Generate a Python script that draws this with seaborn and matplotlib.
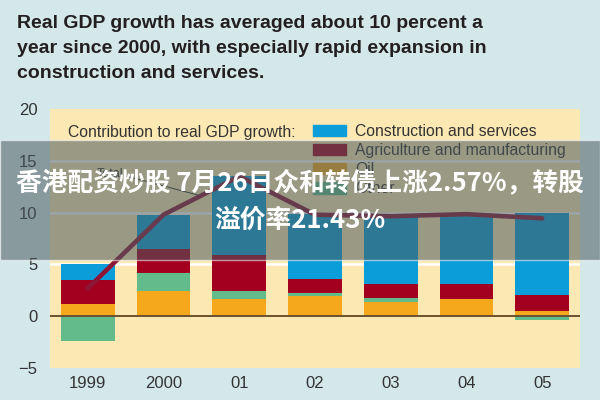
import numpy as np
import pandas as pd
import seaborn as sns
import matplotlib.pyplot as plt
from matplotlib.patches import Patch, Rectangle

years = ['1999', '2000', '01', '02', '03', '04', '05']
oil = [1.13, 2.39, 1.68, 1.94, 1.35, 1.68, 0.48]
other = [-2.35, 1.80, 0.74, 0.29, 0.42, 0.0, -0.35]
agri = [2.32, 2.31, 3.45, 1.38, 1.36, 1.45, 1.52]
constr = [1.55, 3.25, 7.63, 6.24, 6.62, 6.77, 8.0]
gdp = [2.7, 9.8, 13.5, 9.8, 9.65, 9.85, 9.45]

legend_labels = ['Construction and services', 'Agriculture and manufacturing', 'Oil', 'Other']
title = ("Real GDP growth has averaged about 10 percent a\n"
         "year since 2000, with especially rapid expansion in\n"
         "construction and services.")
watermark1 = '香港配资炒股 7月26日众和转债上涨2.57%，转股'
watermark2 = '溢价率21.43%'

c_blue = '#0a9dd9'
c_red = '#a3001f'
c_green = '#62bb8b'
c_orange = '#f5a81c'
c_line = '#8d1637'

df = pd.DataFrame({'year': years, 'oil': oil, 'other': other, 'agri': agri,
                   'constr': constr, 'gdp': gdp})
df['other_pos'] = df['other'].clip(lower=0)
df['other_neg'] = df['other'].clip(upper=0)
df['l_orange'] = df['oil']
df['l_green'] = df['l_orange'] + df['other_pos']
df['l_red'] = df['l_green'] + df['agri']
df['l_blue'] = df['l_red'] + df['constr']

sns.set_style('white')
plt.rcParams['font.family'] = ['Liberation Sans', 'DejaVu Sans']

fig = plt.figure(figsize=(6, 4), dpi=100, facecolor='#d4e8ea')
ax = fig.add_axes([50 / 600, 32 / 400, 530 / 600, 259 / 400])
ax.set_facecolor('#fbe8b3')

# stacked bars: draw cumulative tops from the top layer down
for col, c in [('l_blue', c_blue), ('l_red', c_red), ('l_green', c_green),
               ('l_orange', c_orange), ('other_neg', c_green)]:
    sns.barplot(data=df, x='year', y=col, order=years, color=c, saturation=1,
                width=0.71, errorbar=None, linewidth=0, ax=ax, zorder=2)

sns.lineplot(data=df, x='year', y='gdp', color=c_line, linewidth=3.3,
             sort=False, ax=ax, zorder=4)

for g in [5, 10, 15]:
    ax.axhline(g, color='white', lw=1.8, zorder=1)
ax.axhline(0, color='#6b5030', lw=1.4, zorder=3)

ax.set_xlim(-0.5, 6.5)
ax.set_ylim(-5, 20)
ax.set_yticks([-5, 0, 5, 10, 15, 20])
ax.set_xlabel('')
ax.set_ylabel('')
for s in ax.spines.values():
    s.set_visible(False)
ax.set_xticks(np.arange(-0.5, 7, 1), minor=True)
ax.tick_params(axis='x', which='major', length=0, pad=6, labelsize=12, labelcolor='#333333')
ax.tick_params(axis='x', which='minor', direction='in', length=5, width=1, color='#5a4a3a')
ax.tick_params(axis='y', length=0, pad=9, labelsize=12, labelcolor='#333333')

# label for the line
ax.text(0.47, 13.7, 'Total', ha='right', va='center', fontsize=9, color='#333333')
ax.plot([0.52, 1.45], [13.5, 11.7], color='#333333', lw=0.7, zorder=5)

# legend
handles = [Patch(color=c) for c in [c_blue, c_red, c_orange, c_green]]
fig.legend(handles, legend_labels, loc='upper left',
           bbox_to_anchor=(313 / 600, 1 - 124 / 400), frameon=False,
           handlelength=2.1, handleheight=0.76, labelspacing=0.26,
           handletextpad=0.57, borderpad=0, borderaxespad=0,
           fontsize=11.3, labelcolor='#333333')
fig.text(68 / 600, 1 - 132 / 400, 'Contribution to real GDP growth:',
         ha='left', va='center', fontsize=11.3, color='#333333')

fig.text(17 / 600, 1 - 15 / 400, title, ha='left', va='top', fontsize=14,
         fontweight='bold', color='#231f20', linespacing=1.62)

# watermark band
fig.patches.append(Rectangle((0, 140 / 400), 1, 120 / 400, transform=fig.transFigure,
                             facecolor='#4a5a5e', alpha=0.55, zorder=10))
fig.text(0.5, 1 - 183 / 400, watermark1, ha='center', va='center', color='white',
         fontsize=18.5, fontweight='bold', family=['Noto Sans CJK SC', 'DejaVu Sans'], zorder=11)
fig.text(0.5, 1 - 220 / 400, watermark2, ha='center', va='center', color='white',
         fontsize=18.5, fontweight='bold', family=['Noto Sans CJK SC', 'DejaVu Sans'], zorder=11)

fig.savefig('out.png', dpi=100, facecolor=fig.get_facecolor())
